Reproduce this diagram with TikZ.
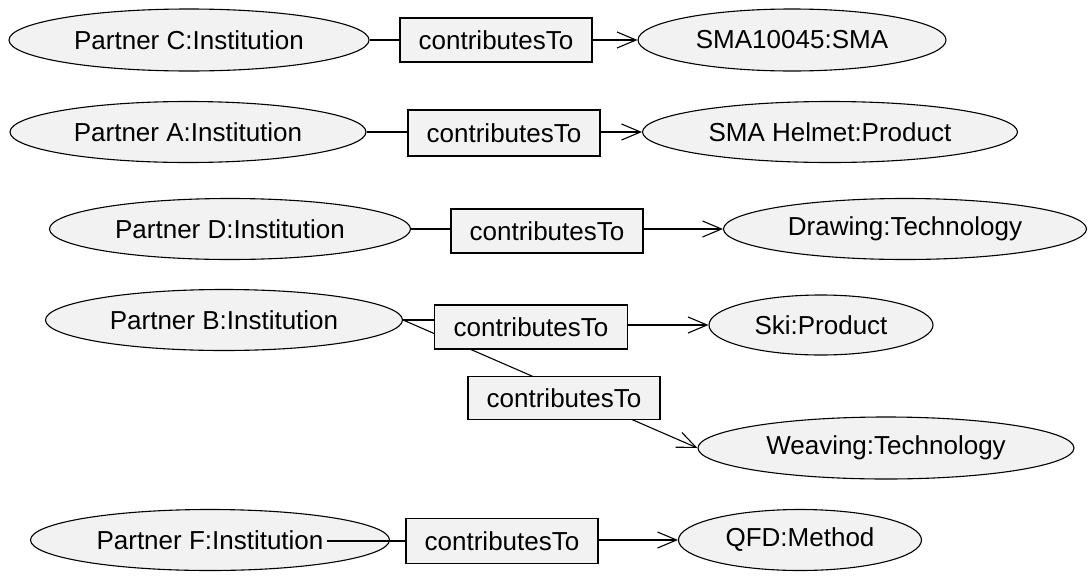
\documentclass[tikz,border=0pt]{standalone}
\usepackage{fontspec}
\setmainfont{Liberation Sans}
\usetikzlibrary{shapes.geometric,arrows.meta,backgrounds}
\definecolor{nodefill}{HTML}{F2F2F2}
\begin{document}
\begin{tikzpicture}[x=1pt,y=-1pt,
  cls/.style={ellipse,draw,fill=nodefill,line width=1.1pt,inner sep=0pt,font=\fontsize{26}{31}\selectfont},
  rel/.style={rectangle,draw,fill=nodefill,line width=1.1pt,inner sep=0pt,minimum width=192pt,minimum height=44pt,font=\fontsize{26}{31}\selectfont},
  link/.style={line width=1.1pt},
  arr/.style={line width=1.1pt,-{Straight Barb[length=19pt,width=16pt]}}]
\useasboundingbox (0,0) rectangle (1088,579);
% row 1
\node[cls,minimum width=360pt,minimum height=62pt] (pc) at (189,40) {Partner C:Institution};
\node[rel] (r1) at (496,40) {contributesTo};
\node[cls,minimum width=308pt,minimum height=62pt] (sma) at (792,40) {SMA10045:SMA};
% row 2
\node[cls,minimum width=356pt,minimum height=61pt] (pa) at (188,132) {Partner A:Institution};
\node[rel,minimum height=46pt] (r2) at (504,133) {contributesTo};
\node[cls,minimum width=375pt,minimum height=61pt] (helm) at (830,132) {SMA Helmet:Product};
% row 3
\node[cls,minimum width=361pt,minimum height=61pt] (pd) at (230,229) {Partner D:Institution};
\node[rel] (r3) at (547,231) {contributesTo};
\node[cls,minimum width=363pt,minimum height=61pt] (dt) at (905,229) {Drawing:Technology};
% row 4
\node[cls,minimum width=357pt,minimum height=61pt] (pb) at (224,320) {Partner B:Institution};
\node[rel,minimum width=193pt] (r4) at (531,327) {contributesTo};
\node[cls,minimum width=224pt,minimum height=60pt] (ski) at (821,325) {Ski:Product};
\node[rel,minimum height=43pt] (r5) at (564,398) {contributesTo};
\node[cls,minimum width=376pt,minimum height=62pt] (wv) at (886,448) {Weaving:Technology};
% row 6
\node[cls,minimum width=359pt,minimum height=61pt] (pf) at (210,540) {Partner F:Institution};
\node[rel,minimum height=45pt] (r6) at (502,541) {contributesTo};
\node[cls,minimum width=243pt,minimum height=61pt] (qfd) at (800,540) {QFD:Method};
% edges
\draw[link] (pc.east) -- (pc.east -| r1.west);
\draw[arr] (r1.east |- sma.west) -- (sma.west);
\draw[link] (pa.east) -- (pa.east -| r2.west);
\draw[arr] (r2.east |- helm.west) -- (helm.west);
\draw[link] (pd.east) -- (pd.east -| r3.west);
\draw[arr] (r3.east |- dt.west) -- (dt.west);
\draw[link] (pb.east) -- (pb.east -| r4.west);
\draw[arr] (r4.east |- ski.west) -- (ski.west);
\begin{pgfonlayer}{background}
\draw[arr] (pb.east) -- (wv.west);
\end{pgfonlayer}
\coordinate (pfs) at (327,541);
\draw[link] (pfs) -- (pfs -| r6.west);
\draw[arr] (r6.east |- qfd.west) -- (qfd.west);
\end{tikzpicture}
\end{document}
